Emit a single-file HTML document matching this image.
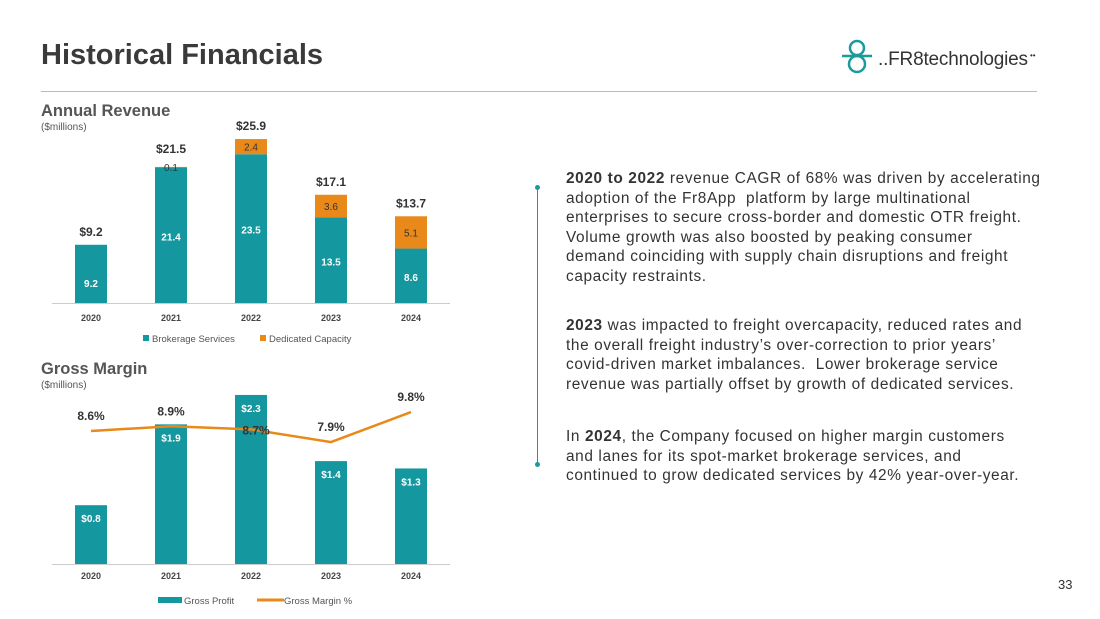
<!DOCTYPE html>
<html><head><meta charset="utf-8"><style>
body{margin:0;width:1100px;height:619px;background:#fff;font-family:"Liberation Sans",sans-serif;position:relative;overflow:hidden}
.abs{position:absolute}
.para{position:absolute;left:566px;font-size:15.4px;line-height:19.5px;color:#333;white-space:nowrap;letter-spacing:0.62px}
</style></head><body>
<div class="abs" style="left:41px;top:39px;font-size:29px;font-weight:bold;color:#3a3a3a">Historical Financials</div>
<div class="abs" style="left:41px;top:91px;width:996px;height:1px;background:#bbb"></div>
<div class="abs" style="left:842px;top:38px;width:200px;height:40px">
<svg width="200" height="40"><circle cx="15" cy="10" r="7" fill="none" stroke="#1a9a9a" stroke-width="2.5"/><circle cx="15" cy="26" r="8" fill="none" stroke="#1a9a9a" stroke-width="2.5"/><line x1="0" y1="18" x2="30" y2="18" stroke="#1a9a9a" stroke-width="2.5"/>
<text x="36" y="27" font-size="19" fill="#333" font-family="Liberation Sans" textLength="150">..FR8technologies</text><text x="188" y="20" font-size="8" fill="#333">••</text></svg></div>

<svg class="abs" style="left:0;top:0" width="540" height="619" id="ch">
<text x="41" y="116" font-size="16.5" font-weight="bold" fill="#555">Annual Revenue</text>
<text x="41" y="130" font-size="10" fill="#555">($millions)</text>
<text x="41" y="374" font-size="16.5" font-weight="bold" fill="#555">Gross Margin</text>
<text x="41" y="388" font-size="10" fill="#555">($millions)</text>
</svg>

<div class="abs" style="left:537px;top:187px;width:1px;height:278px;background:#1a9a9a"></div>
<div class="abs" style="left:535px;top:185px;width:5px;height:5px;border-radius:50%;background:#1a9a9a"></div>
<div class="abs" style="left:535px;top:462px;width:5px;height:5px;border-radius:50%;background:#1a9a9a"></div>
<div class="para" style="top:169px"><b>2020 to 2022</b> revenue CAGR of 68% was driven by accelerating<br>adoption of the Fr8App&nbsp; platform by large multinational<br>enterprises to secure cross-border and domestic OTR freight.<br>Volume growth was also boosted by peaking consumer<br>demand coinciding with supply chain disruptions and freight<br>capacity restraints.</div>
<div class="para" style="top:316px"><b>2023</b> was impacted to freight overcapacity, reduced rates and<br>the overall freight industry’s over-correction to prior years’<br>covid-driven market imbalances.&nbsp; Lower brokerage service<br>revenue was partially offset by growth of dedicated services.</div>
<div class="para" style="top:427px">In <b>2024</b>, the Company focused on higher margin customers<br>and lanes for its spot-market brokerage services, and<br>continued to grow dedicated services by 42% year-over-year.</div>
<div class="abs" style="left:1058px;top:577px;font-size:13px;color:#333">33</div>

<script>
const years=["2020","2021","2022","2023","2024"];
const brokerage=[9.2,21.4,23.5,13.5,8.6];
const dedicated=[0,0.1,2.4,3.6,5.1];
const totals=["$9.2","$21.5","$25.9","$17.1","$13.7"];
const grossProfit=[0.8,1.9,2.3,1.4,1.3];
const marginPct=[8.6,8.9,8.7,7.9,9.8];
const TEAL="#14979f",ORANGE="#e8891a",NS="http://www.w3.org/2000/svg";
const svg=document.getElementById('ch');
function el(t,a,txt){const e=document.createElementNS(NS,t);for(const k in a)e.setAttribute(k,a[k]);if(txt!==undefined)e.textContent=txt;svg.appendChild(e);return e;}
const xc=i=>91+i*80;
const ry=v=>303-v*6.33;
const gy=v=>564-v*73.5;
const my=v=>431-(v-8.6)*15.8;
let e;
e=el('line',{x1:52,y1:303.5,x2:450,y2:303.5,stroke:'#ccc'});

years.forEach((y,i)=>{
 const b=brokerage[i],d=dedicated[i];
 e=el('rect',{x:xc(i)-16,y:ry(b),width:32,height:303-ry(b),fill:TEAL});
 
 if(d>0){e=el('rect',{x:xc(i)-16,y:ry(b+d),width:32,height:ry(b)-ry(b+d),fill:ORANGE});
 
 e=el('text',{x:xc(i),y:d<1?ry(b+d)+4:(ry(b)+ry(b+d))/2+4,'text-anchor':'middle','font-size':10,fill:'#333'},d.toFixed(1));
 }
 e=el('text',{x:xc(i),y:(ry(b)+303)/2+5+(i==0?8:0),'text-anchor':'middle','font-size':10,'font-weight':'bold',fill:'#fff'},b.toFixed(1));
 
 e=el('text',{x:xc(i),y:ry(b+d)-(i==1?14:9),'text-anchor':'middle','font-size':12,'font-weight':'bold',fill:'#333'},totals[i]);
 
 e=el('text',{x:xc(i),y:321,'text-anchor':'middle','font-size':9,'font-weight':'bold',fill:'#444'},y);
 
 e=el('rect',{x:xc(i)-16,y:gy(grossProfit[i]),width:32,height:564-gy(grossProfit[i]),fill:TEAL});
 
 e=el('text',{x:xc(i),y:gy(grossProfit[i])+17,'text-anchor':'middle','font-size':10,'font-weight':'bold',fill:'#fff'},'$'+grossProfit[i].toFixed(1));
 
 e=el('text',{x:xc(i),y:579,'text-anchor':'middle','font-size':9,'font-weight':'bold',fill:'#444'},y);
 
});
e=el('line',{x1:52,y1:564.5,x2:450,y2:564.5,stroke:'#ccc'});

e=el('polyline',{points:marginPct.map((v,i)=>xc(i)+','+my(v)).join(' '),fill:'none',stroke:ORANGE,'stroke-width':2.5});

marginPct.forEach((v,i)=>{
 const yy=i==2?my(v)+5:my(v)-11;
 e=el('text',{x:xc(i)+(i==2?5:0),y:yy,'text-anchor':'middle','font-size':12,'font-weight':'bold',fill:'#333'},v.toFixed(1)+'%');
 
});
e=el('rect',{x:143,y:335,width:6,height:6,fill:TEAL});
e=el('text',{x:152,y:342,'font-size':9.5,fill:'#555'},'Brokerage Services');
e=el('rect',{x:260,y:335,width:6,height:6,fill:ORANGE});
e=el('text',{x:269,y:342,'font-size':9.5,fill:'#555'},'Dedicated Capacity');
e=el('rect',{x:158,y:597,width:24,height:6,fill:TEAL});
e=el('text',{x:184,y:604,'font-size':9.5,fill:'#555'},'Gross Profit');
e=el('line',{x1:257,y1:600,x2:284,y2:600,stroke:ORANGE,'stroke-width':3});
e=el('text',{x:284,y:604,'font-size':9.5,fill:'#555'},'Gross Margin %');
</script>
</body></html>
